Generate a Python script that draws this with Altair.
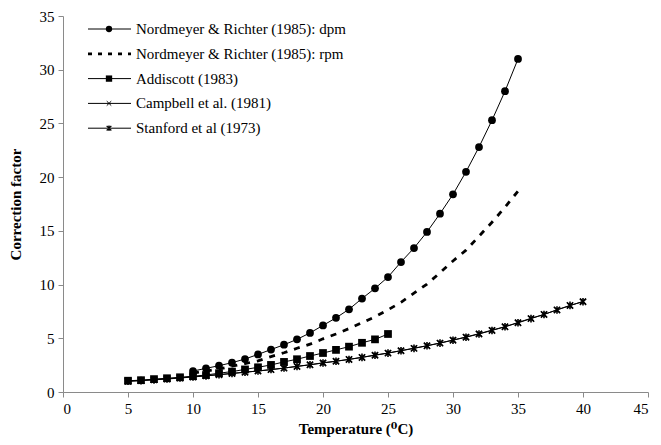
import altair as alt
import pandas as pd

# ---- data ----
names = [
    "Nordmeyer & Richter (1985): dpm",
    "Nordmeyer & Richter (1985): rpm",
    "Addiscott (1983)",
    "Campbell et al. (1981)",
    "Stanford et al (1973)",
]

t_dpm = list(range(10, 36))
dpm = [1.95, 2.2, 2.45, 2.73, 3.07, 3.5, 3.95, 4.4, 4.9, 5.5,
       6.2, 6.9, 7.7, 8.7, 9.65, 10.7, 12.1, 13.4, 14.9, 16.6,
       18.4, 20.5, 22.8, 25.3, 28.0, 31.0]

t_rpm = list(range(10, 36))
rpm = [1.75, 1.95, 2.15, 2.4, 2.65, 2.9, 3.3, 3.65, 4.07, 4.45,
       4.95, 5.4, 5.9, 6.45, 7.0, 7.65, 8.35, 9.2, 10.05, 11.1,
       12.2, 13.2, 14.5, 15.8, 17.2, 18.7]

t_add = list(range(5, 26))
addiscott = [1.05, 1.1, 1.2, 1.28, 1.37, 1.47, 1.58, 1.75, 1.9, 2.1,
             2.3, 2.52, 2.8, 3.05, 3.35, 3.63, 3.92, 4.22, 4.58, 4.9, 5.4]

t_camp = list(range(5, 41))
campbell = [1.0, 1.07, 1.15, 1.23, 1.32, 1.42, 1.52, 1.62, 1.73, 1.85,
            1.95, 2.08, 2.22, 2.39, 2.54, 2.72, 2.87, 3.04, 3.23, 3.44,
            3.63, 3.85, 4.08, 4.31, 4.56, 4.84, 5.12, 5.43, 5.76, 6.08,
            6.47, 6.86, 7.22, 7.65, 8.04, 8.44]

t_stan = list(range(5, 41))
stanford = [1.0, 1.06, 1.13, 1.21, 1.3, 1.4, 1.5, 1.61, 1.72, 1.84,
            1.96, 2.09, 2.23, 2.38, 2.53, 2.7, 2.86, 3.03, 3.22, 3.42,
            3.62, 3.84, 4.06, 4.3, 4.55, 4.82, 5.1, 5.4, 5.73, 6.07,
            6.44, 6.83, 7.22, 7.64, 8.06, 8.4]

x_ticks = list(range(0, 46, 5))
y_ticks = list(range(0, 36, 5))

FONT = "Times New Roman, Liberation Serif, DejaVu Serif, serif"
W, H = 585, 376


def frame(ts, vs, name):
    return pd.DataFrame({"t": ts, "v": vs, "s": name})


df_dpm = frame(t_dpm, dpm, names[0])
df_rpm = frame(t_rpm, rpm, names[1])
df_add = frame(t_add, addiscott, names[2])
df_camp = frame(t_camp, campbell, names[3])
df_stan = frame(t_stan, stanford, names[4])
solid = pd.concat([df_dpm, df_add, df_camp, df_stan])

xs = alt.Scale(domain=[0, 45], nice=False, zero=False)
ys = alt.Scale(domain=[0, 35], nice=False)
X = alt.X("t:Q", scale=xs,
          axis=alt.Axis(values=x_ticks, title="Temperature (⁰C)", titlePadding=5))
Y = alt.Y("v:Q", scale=ys,
          axis=alt.Axis(values=y_ticks, title="Correction factor", titlePadding=16))

XCROSS = "M-1,-1L1,1M-1,1L1,-1"
ASTER = "M-1,-1L1,1M-1,1L1,-1M0,-1.2L0,1.2"

lines = alt.Chart(solid).mark_line(color="black", strokeWidth=1).encode(
    x=X, y=Y, detail="s:N")
rpm_line = alt.Chart(df_rpm).mark_line(
    color="black", strokeWidth=2.8, strokeDash=[6, 7]).encode(x=X, y=Y)
circ = alt.Chart(df_dpm).mark_point(
    shape="circle", filled=True, color="black", size=60, opacity=1).encode(x=X, y=Y)
sq = alt.Chart(df_add).mark_point(
    shape="square", filled=True, color="black", size=60, opacity=1).encode(x=X, y=Y)
xm = alt.Chart(df_camp).mark_point(
    shape=XCROSS, filled=False, color="black", size=30, strokeWidth=1.2, opacity=1).encode(x=X, y=Y)
am = alt.Chart(df_stan).mark_point(
    shape=ASTER, filled=False, color="black", size=40, strokeWidth=1.6, opacity=1).encode(x=X, y=Y)

# ---- manual legend (pixel positions relative to plot area) ----
leg = pd.DataFrame({
    "label": names,
    "ly": [13 + 24.8 * i for i in range(len(names))],
    "x1": 25, "x2": 68, "mx": 46, "tx": 73,
})
LX = lambda f: alt.X(f"{f}:Q", scale=None, axis=None)
LY = alt.Y("ly:Q", scale=None, axis=None)

leg_solid = alt.Chart(leg).transform_filter(
    alt.datum.label != names[1]).mark_rule(color="black", strokeWidth=1).encode(
    x=LX("x1"), x2="x2:Q", y=LY)
leg_dash = alt.Chart(leg).transform_filter(
    alt.datum.label == names[1]).mark_rule(
    color="black", strokeWidth=2.8, strokeDash=[4, 6]).encode(
    x=LX("x1"), x2="x2:Q", y=LY)
leg_c = alt.Chart(leg).transform_filter(alt.datum.label == names[0]).mark_point(
    shape="circle", filled=True, color="black", size=40, opacity=1).encode(x=LX("mx"), y=LY)
leg_s = alt.Chart(leg).transform_filter(alt.datum.label == names[2]).mark_point(
    shape="square", filled=True, color="black", size=40, opacity=1).encode(x=LX("mx"), y=LY)
leg_x = alt.Chart(leg).transform_filter(alt.datum.label == names[3]).mark_point(
    shape=XCROSS, filled=False, color="black", size=20, strokeWidth=1, opacity=1).encode(x=LX("mx"), y=LY)
leg_a = alt.Chart(leg).transform_filter(alt.datum.label == names[4]).mark_point(
    shape=ASTER, filled=False, color="black", size=22, strokeWidth=1.3, opacity=1).encode(x=LX("mx"), y=LY)
leg_t = alt.Chart(leg).mark_text(
    align="left", baseline="middle", font=FONT, fontSize=15, color="black").encode(
    x=LX("tx"), y=LY, text="label:N")

chart = alt.layer(
    lines, rpm_line, circ, sq, xm, am,
    leg_solid, leg_dash, leg_c, leg_s, leg_x, leg_a, leg_t,
).properties(
    width=W, height=H,
    autosize=alt.AutoSizeParams(type="none"),
    padding={"left": 55, "top": 8, "right": 2, "bottom": 49},
    background="white",
).configure_view(
    strokeWidth=0
).configure_axis(
    grid=False,
    labelFont=FONT, labelFontSize=15, labelColor="black", labelPadding=4,
    titleFont=FONT, titleFontSize=15, titleFontWeight="bold", titleColor="black",
    domainColor="#8a8a8a", tickColor="#8a8a8a", tickSize=5,
)

chart.save("out.html", embed_options={"renderer": "svg", "actions": False})
